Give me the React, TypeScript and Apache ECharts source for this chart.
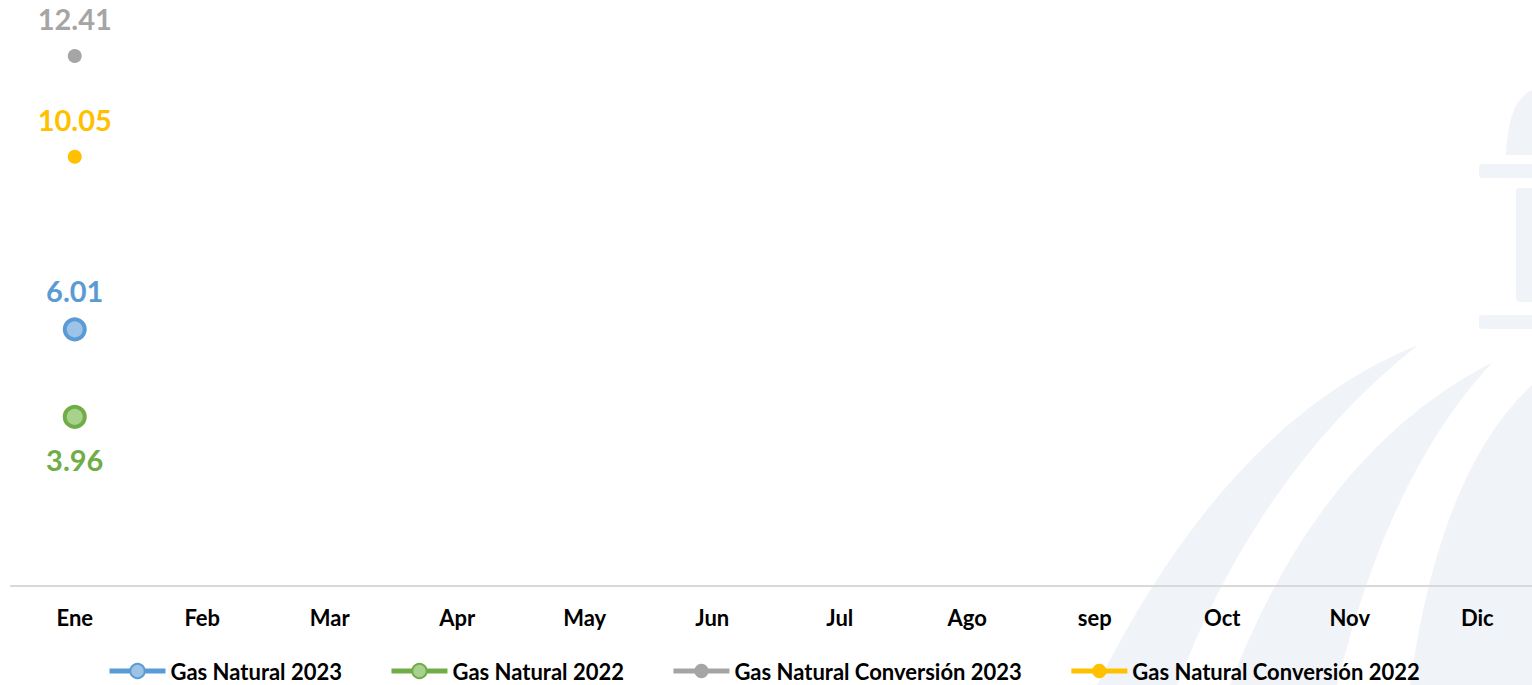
import React, { useEffect, useRef } from "react";
import * as echarts from "echarts";

const months = ["Ene", "Feb", "Mar", "Apr", "May", "Jun", "Jul", "Ago", "sep", "Oct", "Nov", "Dic"];
const gasNatural2023 = [6.01];
const gasNatural2022 = [3.96];
const gasConversion2023 = [12.41];
const gasConversion2022 = [10.05];

const FONT = "Lato, 'Open Sans', sans-serif";
const WM = "#f0f3f8";

echarts.graphic.registerShape(
  "swooshA",
  echarts.graphic.extendPath("M1418,345 Q1230,420 1097,685 L1177,685 Q1260,470 1418,345 Z", {})
);
echarts.graphic.registerShape(
  "swooshB",
  echarts.graphic.extendPath("M1493,362 Q1320,450 1230,685 L1337,685 Q1390,470 1493,362 Z", {})
);
echarts.graphic.registerShape(
  "swooshC",
  echarts.graphic.extendPath("M1532,385 Q1440,470 1410,685 L1532,685 Z", {})
);
echarts.graphic.registerShape(
  "dome",
  echarts.graphic.extendPath("M1506,155 Q1508,100 1532,90 L1532,155 Z", {})
);

export default function App() {
  const ref = useRef<HTMLDivElement>(null);
  useEffect(() => {
    if (!ref.current) return;
    const chart = echarts.init(ref.current, undefined, { renderer: "svg" });
    const labelBase = { show: true, fontFamily: FONT, fontWeight: "bold", fontSize: 29, formatter: (p: any) => Number(p.value).toFixed(2) };
    chart.setOption({
      animation: false,
      backgroundColor: "#ffffff",
      graphic: [
        { type: "swooshA", x: 0, y: 0, z: -10, silent: true, style: { fill: WM } },
        { type: "swooshB", x: 0, y: 0, z: -10, silent: true, style: { fill: WM } },
        { type: "swooshC", x: 0, y: 0, z: -10, silent: true, style: { fill: WM } },
        { type: "dome", x: 0, y: 0, z: -10, silent: true, style: { fill: WM } },
        { type: "rect", z: -10, silent: true, shape: { x: 1479, y: 164, width: 60, height: 14, r: 3 }, style: { fill: WM } },
        { type: "rect", z: -10, silent: true, shape: { x: 1516, y: 188, width: 24, height: 114, r: 4 }, style: { fill: WM } },
        { type: "rect", z: -10, silent: true, shape: { x: 1479, y: 315, width: 60, height: 14, r: 3 }, style: { fill: WM } },
      ],
      grid: { left: 11, width: 1530, top: 0, height: 586 },
      legend: {
        left: 107,
        top: 660,
        itemWidth: 56,
        itemHeight: 18,
        itemGap: 47,
        padding: 0,
        lineStyle: { width: 5 },
        textStyle: { fontFamily: FONT, fontWeight: "bold", fontSize: 22, color: "#000" },
        data: ["Gas Natural 2023", "Gas Natural 2022", "Gas Natural Conversión 2023", "Gas Natural Conversión 2022"],
      },
      xAxis: {
        type: "category",
        data: months,
        boundaryGap: true,
        axisLine: { lineStyle: { color: "#d9d9d9", width: 2 } },
        axisTick: { show: false },
        axisLabel: { fontFamily: FONT, fontWeight: "bold", fontSize: 22, color: "#000", margin: 20, interval: 0 },
      },
      yAxis: { type: "value", min: 0, max: 13.72, show: false, splitLine: { show: false } },
      series: [
        {
          name: "Gas Natural 2023",
          type: "line",
          data: gasNatural2023,
          symbol: "circle",
          symbolSize: 20,
          lineStyle: { color: "#5b9bd5", width: 5 },
          itemStyle: { color: "#9dc3e6", borderColor: "#5b9bd5", borderWidth: 4 },
          label: { ...labelBase, position: "top", distance: 12, color: "#5b9bd5" },
        },
        {
          name: "Gas Natural 2022",
          type: "line",
          data: gasNatural2022,
          symbol: "circle",
          symbolSize: 20,
          lineStyle: { color: "#70ad47", width: 5 },
          itemStyle: { color: "#a9d18e", borderColor: "#70ad47", borderWidth: 4 },
          label: { ...labelBase, position: "bottom", distance: 16, color: "#70ad47" },
        },
        {
          name: "Gas Natural Conversión 2023",
          type: "line",
          data: gasConversion2023,
          symbol: "circle",
          symbolSize: 14,
          lineStyle: { color: "#a5a5a5", width: 5 },
          itemStyle: { color: "#a5a5a5" },
          label: { ...labelBase, position: "top", distance: 16, color: "#a5a5a5" },
        },
        {
          name: "Gas Natural Conversión 2022",
          type: "line",
          data: gasConversion2022,
          symbol: "circle",
          symbolSize: 14,
          lineStyle: { color: "#ffc000", width: 5 },
          itemStyle: { color: "#ffc000" },
          label: { ...labelBase, position: "top", distance: 16, color: "#ffc000" },
        },
      ],
    });
    return () => chart.dispose();
  }, []);
  return <div ref={ref} style={{ position: "fixed", left: 0, top: 0, width: 1541, height: 685 }} />;
}
